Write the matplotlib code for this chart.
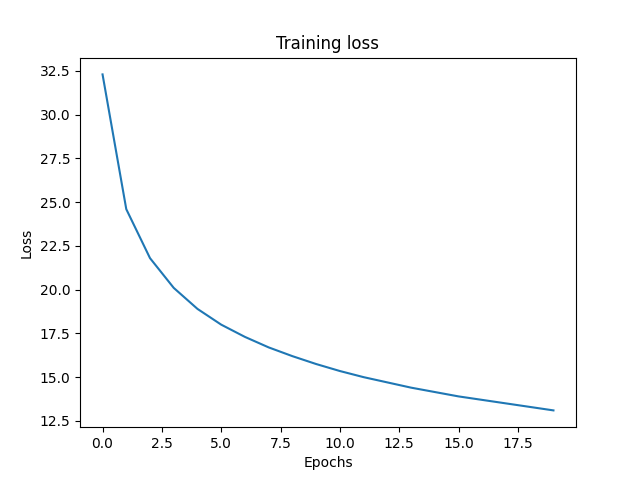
import matplotlib
matplotlib.use("Agg")
import matplotlib.pyplot as plt

epochs = list(range(20))
loss = [32.3, 24.6, 21.8, 20.1, 18.9, 18.0, 17.3, 16.7, 16.2, 15.75,
        15.35, 15.0, 14.7, 14.4, 14.15, 13.9, 13.7, 13.5, 13.3, 13.1]

plt.figure(figsize=(6.4, 4.8), dpi=100)
plt.plot(epochs, loss)
plt.title("Training loss")
plt.xlabel("Epochs")
plt.ylabel("Loss")
plt.savefig("out.png")
